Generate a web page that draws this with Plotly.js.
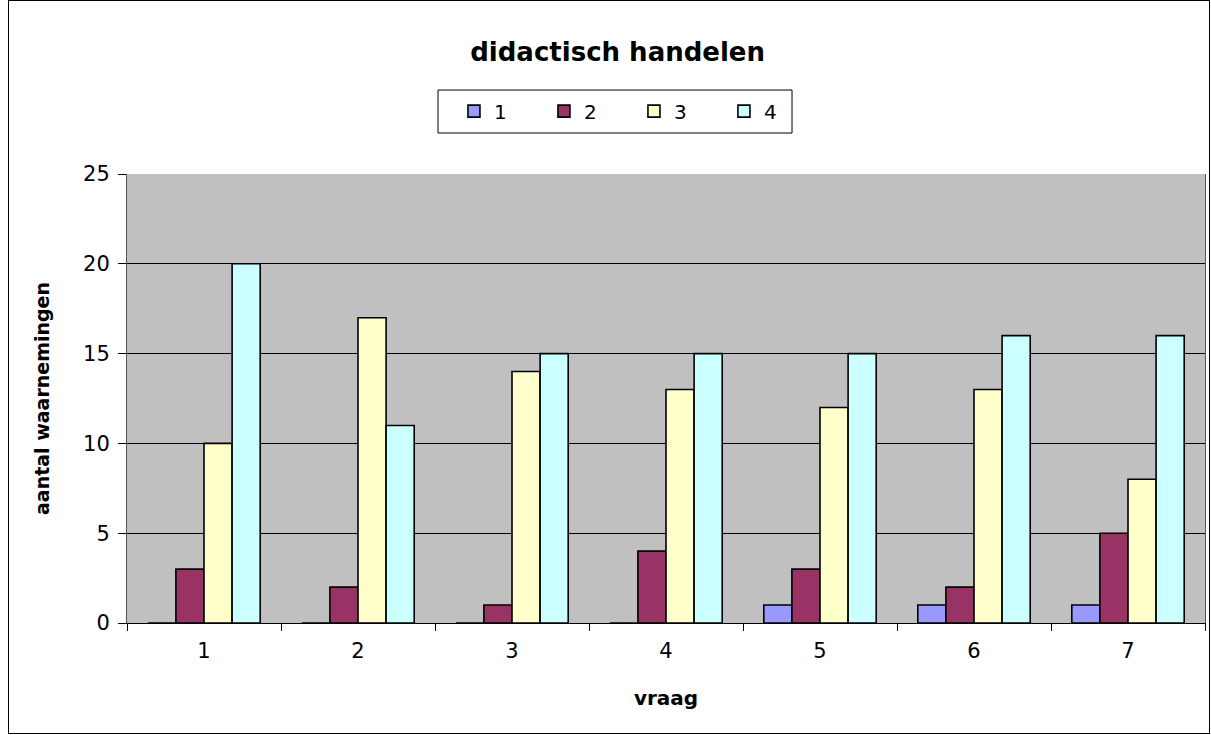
<!DOCTYPE html>
<html>
<head>
<meta charset="utf-8">
<script src="https://cdn.plot.ly/plotly-3.0.1.min.js"></script>
<style>
  html, body { margin: 0; padding: 0; background: #fff; }
  #plot { width: 1211px; height: 735px; }
  #frame { position: absolute; left: 8px; top: 0px; width: 1202px; height: 734px; border: 1px solid #000; box-sizing: border-box; pointer-events: none; }
</style>
</head>
<body>
<div id="plot"></div>
<div id="frame"></div>
<script>
// vraag 1..7, scores 1..4
let vragen = ['1', '2', '3', '4', '5', '6', '7'];
let score1 = [0, 0, 0, 0, 1, 1, 1];
let score2 = [3, 2, 1, 4, 3, 2, 5];
let score3 = [10, 17, 14, 13, 12, 13, 8];
let score4 = [20, 11, 15, 15, 15, 16, 16];

let names = ['1', '2', '3', '4'];
let colors = ['#9999FF', '#993366', '#FFFFCC', '#CCFFFF'];
let series = [score1, score2, score3, score4];

let data = series.map((s, i) => ({
    x: vragen,
    y: s,
    name: names[i],
    type: 'bar',
    marker: { color: colors[i], line: { color: '#000', width: 1.6 } }
}));

let layout = {
    width: 1211,
    height: 735,
    margin: { l: 127, r: 6, t: 174, b: 112 },
    paper_bgcolor: '#fff',
    plot_bgcolor: '#C0C0C0',
    font: { family: 'DejaVu Sans, Arial, sans-serif', color: '#000', size: 20 },
    title: {
        text: '<b>didactisch handelen</b>',
        font: { size: 26 },
        x: 0.51, xref: 'container',
        y: 0.93, yref: 'container', yanchor: 'middle'
    },
    barmode: 'group',
    bargap: 0.27,
    bargroupgap: 0,
    showlegend: true,
    legend: {
        orientation: 'h',
        x: 0.3033, xanchor: 'left',
        y: 1.14, yanchor: 'middle',
        borderwidth: 0,
        bgcolor: 'rgba(0,0,0,0)',
        font: { size: 20 },
        entrywidth: 45,
        itemwidth: 30
    },
    // legend frame
    shapes: [{
        type: 'rect', xref: 'paper', yref: 'paper',
        x0: 0.2885, x1: 0.6169, y0: 1.0913, y1: 1.187,
        line: { color: '#000', width: 1 }, fillcolor: '#fff', layer: 'below'
    }],
    xaxis: {
        type: 'category',
        tickson: 'boundaries',
        ticks: 'outside',
        ticklen: 7,
        tickcolor: '#000',
        showgrid: false,
        showline: true,
        linecolor: '#000',
        linewidth: 1,
        ticklabelstandoff: 9,
        title: { text: '<b>vraag</b>', font: { size: 20 }, standoff: 28 },
        tickfont: { size: 21 }
    },
    yaxis: {
        range: [0, 25],
        dtick: 5,
        ticks: 'outside',
        ticklen: 8,
        tickcolor: '#000',
        showgrid: true,
        gridcolor: '#000',
        gridwidth: 1,
        zeroline: true,
        zerolinecolor: '#000',
        showline: true,
        linecolor: '#555',
        mirror: true,
        ticklabelstandoff: 4,
        title: { text: '<b>aantal waarnemingen</b>', font: { size: 19 }, standoff: 28 },
        tickfont: { size: 21 }
    }
};

Plotly.newPlot('plot', data, layout, { displayModeBar: false });
</script>
</body>
</html>
